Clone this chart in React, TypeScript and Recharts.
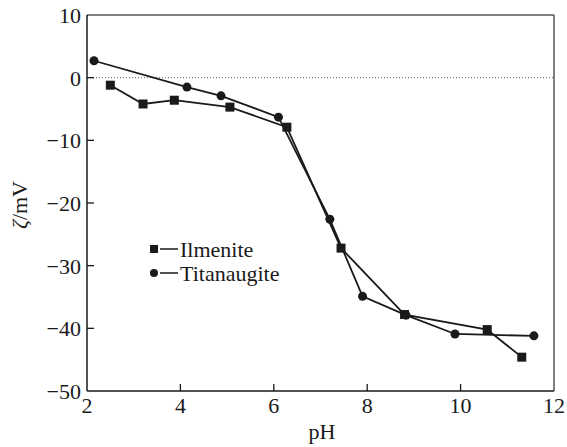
import {
  LineChart,
  Line,
  XAxis,
  YAxis,
  ReferenceLine,
  Legend,
} from "recharts";

const ilmenitePh = [2.5, 3.2, 3.87, 5.06, 6.28, 7.44, 8.8, 10.57, 11.31];
const ilmeniteZeta = [-1.2, -4.2, -3.6, -4.7, -7.9, -27.2, -37.8, -40.2, -44.6];
const titanaugitePh = [2.15, 4.14, 4.87, 6.1, 7.2, 7.9, 8.83, 9.88, 11.57];
const titanaugiteZeta = [2.7, -1.5, -2.9, -6.3, -22.6, -34.9, -37.9, -40.9, -41.2];

const xTicks = [2, 4, 6, 8, 10, 12];
const yTicks = [-50, -40, -30, -20, -10, 0, 10];

const ilmenite = ilmenitePh.map((ph, i) => ({ ph, zeta: ilmeniteZeta[i] }));
const titanaugite = titanaugitePh.map((ph, i) => ({ ph, zeta: titanaugiteZeta[i] }));

const FONT = "Liberation Serif";
const INK = "#1a1a1a";

const SquareDot = (props: any) => {
  const { cx, cy } = props;
  if (cx == null || cy == null) return null;
  return <rect x={cx - 4.5} y={cy - 4.5} width={9} height={9} fill={INK} />;
};

const CircleDot = (props: any) => {
  const { cx, cy } = props;
  if (cx == null || cy == null) return null;
  return <circle cx={cx} cy={cy} r={4.5} fill={INK} />;
};

const XTick = (props: any) => {
  const { x, y, payload } = props;
  const v = payload.value;
  return (
    <g>
      {v !== 2 && v !== 12 && (
        <line x1={x} y1={y} x2={x} y2={y - 7} stroke={INK} strokeWidth={1.3} />
      )}
      <text x={x} y={y + 22} textAnchor="middle" fontSize={22} fontFamily={FONT} fill={INK}>
        {v}
      </text>
    </g>
  );
};

const YTick = (props: any) => {
  const { x, y, payload } = props;
  const v = payload.value;
  return (
    <g>
      {v !== -50 && v !== 10 && (
        <line x1={x} y1={y} x2={x + 7} y2={y} stroke={INK} strokeWidth={1.3} />
      )}
      <text x={x - 6} y={y + 8} textAnchor="end" fontSize={22} fontFamily={FONT} fill={INK}>
        {v < 0 ? `\u2212${Math.abs(v)}` : v}
      </text>
    </g>
  );
};

const legendItems = [
  { name: "Ilmenite", square: true },
  { name: "Titanaugite", square: false },
];

const LegendBox = () => (
  <svg width={170} height={56}>
    {legendItems.map((item, i) => {
      const cy = 14 + i * 24;
      return (
        <g key={item.name}>
          {item.square ? (
            <rect x={1} y={cy - 4} width={8} height={8} fill={INK} />
          ) : (
            <circle cx={5} cy={cy} r={4} fill={INK} />
          )}
          <line x1={11} y1={cy} x2={29} y2={cy} stroke={INK} strokeWidth={1.5} />
          <text x={31} y={cy + 7.5} fontSize={22} fontFamily={FONT} fill={INK}>
            {item.name}
          </text>
        </g>
      );
    })}
  </svg>
);

export default function App() {
  return (
    <div style={{ position: "absolute", left: 0, top: 0, background: "#fff" }}>
      <LineChart
        width={567}
        height={447}
        margin={{ top: 15, right: 13, left: 0, bottom: 0 }}
      >
        <XAxis
          type="number"
          dataKey="ph"
          domain={[2, 12]}
          ticks={xTicks}
          allowDuplicatedCategory={false}
          height={56}
          stroke={INK}
          strokeWidth={1.5}
          tickLine={false}
          tickSize={0}
          tickMargin={0}
          tick={<XTick />}
          label={{
            content: () => (
              <text x={322} y={439} textAnchor="middle" fontSize={22} fontFamily={FONT} fill={INK}>
                pH
              </text>
            ),
          }}
        />
        <YAxis
          type="number"
          dataKey="zeta"
          domain={[-50, 10]}
          ticks={yTicks}
          width={87}
          stroke={INK}
          strokeWidth={1.5}
          tickLine={false}
          tickSize={0}
          tickMargin={0}
          tick={<YTick />}
          label={{
            content: () => (
              <text
                x={27}
                y={205}
                textAnchor="middle"
                fontSize={22}
                fontFamily={FONT}
                fill={INK}
                transform="rotate(-90 27 205)"
              >
                <tspan fontStyle="italic">ζ</tspan>
                <tspan>/mV</tspan>
              </text>
            ),
          }}
        />
        <ReferenceLine y={0} stroke="#666" strokeDasharray="1 2" strokeWidth={1} />
        <ReferenceLine y={10} stroke="#555" strokeWidth={1.5} />
        <ReferenceLine x={12} stroke="#555" strokeWidth={1.5} />
        <Line
          data={ilmenite}
          dataKey="zeta"
          name="Ilmenite"
          stroke={INK}
          strokeWidth={1.8}
          dot={<SquareDot />}
          activeDot={false}
          isAnimationActive={false}
        />
        <Line
          data={titanaugite}
          dataKey="zeta"
          name="Titanaugite"
          stroke={INK}
          strokeWidth={1.8}
          dot={<CircleDot />}
          activeDot={false}
          isAnimationActive={false}
        />
        <Legend
          layout="vertical"
          align="center"
          verticalAlign="middle"
          content={() => <LegendBox />}
          wrapperStyle={{ position: "absolute", left: 149, top: 235, width: 170 }}
        />
      </LineChart>
    </div>
  );
}
